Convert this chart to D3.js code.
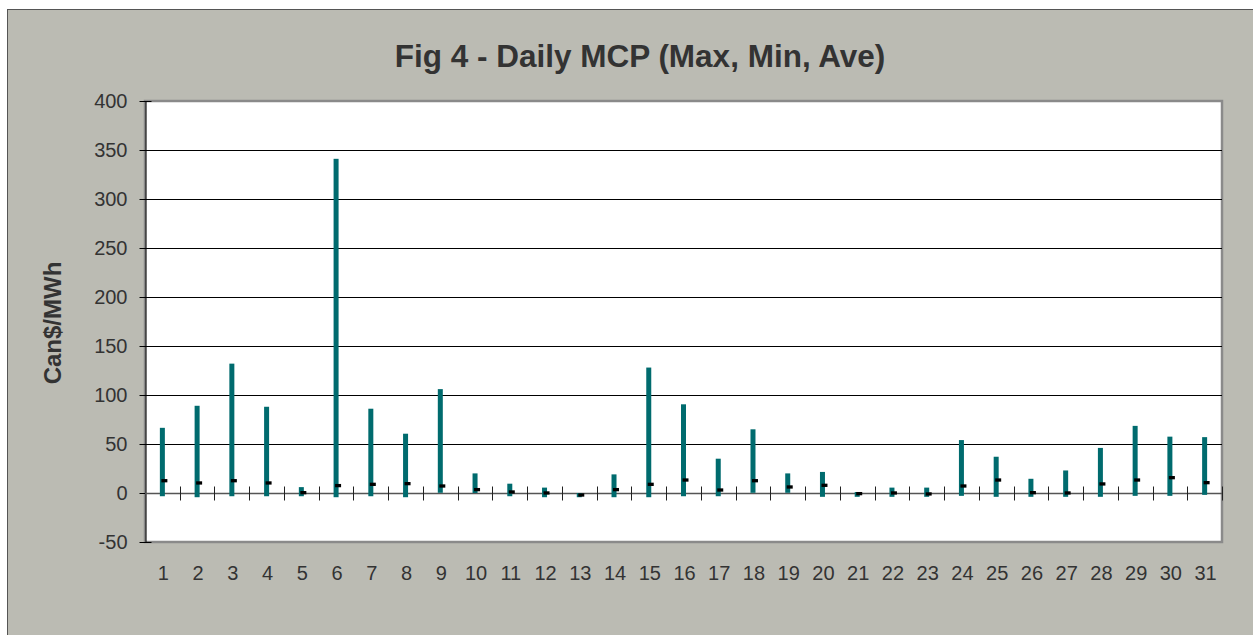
<!DOCTYPE html>
<html>
<head>
<meta charset="utf-8">
<script src="https://cdn.jsdelivr.net/npm/d3@7"></script>
<style>
  html, body { margin: 0; padding: 0; background: #fff; }
  svg { display: block; font-family: "Liberation Sans", Arial, sans-serif; }
</style>
</head>
<body>
<svg id="chart" width="1253" height="635"></svg>
<script>
// daily MCP values (Can$/MWh)
const days = d3.range(1, 32);
const maxPrice = [66.5, 89, 132, 88, 6, 341, 86, 60.5, 106, 20, 9.5, 5.5, 0, 19, 128,
  90.5, 35, 65, 20, 21.5, 1, 5.5, 5.5, 54, 37, 14.5, 23, 46, 68.5, 57.5, 57];
const minPrice = [-3.3, -4.3, -3.3, -3.3, -3.3, -4.3, -3.3, -4.3, 0.2, 0, -3.3, -4.3, -4.3, -4.3, -4.3,
  -3.3, -3.3, 0.2, 0.2, -3.9, -3.9, -3.9, -3.9, -2.9, -3.9, -3.9, -3.9, -3.9, -2.9, -2.9, -1.9];
const avePrice = [12.7, 10.4, 12.7, 10.4, 0.5, 7.7, 9, 9.7, 7.3, 3.6, 1.2, 0.2, -1.9, 3.6, 9,
  13.4, 3.2, 12.7, 6.3, 8, -0.5, 0.2, -0.8, 7.3, 13.4, 0.5, 0.2, 9.4, 13.4, 15.8, 10.7];
const yTicks = [-50, 0, 50, 100, 150, 200, 250, 300, 350, 400];

const data = days.map((d, i) => ({ day: d, max: maxPrice[i], min: minPrice[i], ave: avePrice[i] }));

const svg = d3.select('#chart');
const plot = { left: 145, top: 101, right: 1222, bottom: 542 };

// background frame
svg.append('rect').attr('x', 7.5).attr('y', 9.5).attr('width', 1260).attr('height', 640)
  .attr('fill', '#bbbbb3').attr('stroke', '#555').attr('stroke-width', 1);

svg.append('text')
  .attr('x', 640).attr('y', 67)
  .attr('text-anchor', 'middle')
  .attr('font-size', 31.5).attr('font-weight', 'bold').attr('fill', '#333')
  .text('Fig 4 - Daily MCP (Max, Min, Ave)');

const x = d3.scaleBand().domain(days).range([plot.left, plot.right]).padding(0);
const y = d3.scaleLinear().domain([-50, 400]).range([plot.bottom, plot.top]);

// plot area
svg.append('rect')
  .attr('x', plot.left).attr('y', plot.top)
  .attr('width', plot.right - plot.left).attr('height', plot.bottom - plot.top)
  .attr('fill', '#fff').attr('stroke', '#8a8a8a').attr('stroke-width', 2.5);

// gridlines
svg.append('g')
  .selectAll('line')
  .data(yTicks.filter(t => t !== 0 && t !== -50 && t !== 400))
  .join('line')
  .attr('x1', plot.left).attr('x2', plot.right)
  .attr('y1', d => Math.round(y(d)) + 0.5).attr('y2', d => Math.round(y(d)) + 0.5)
  .attr('stroke', '#000').attr('stroke-width', 1);

// y axis
const yAxis = d3.axisLeft(y).tickValues(yTicks).tickFormat(d => String(d))
  .tickSizeInner(6).tickSizeOuter(0).tickPadding(12);
const ya = svg.append('g').attr('transform', `translate(${plot.left + 0.5},0)`).call(yAxis);
ya.select('.domain').attr('stroke', '#000');
ya.selectAll('.tick line').attr('stroke', '#000').attr('x2', -6).attr('x1', 6);
ya.selectAll('.tick text').attr('font-size', 20).attr('fill', '#333')
  .attr('font-family', '"Liberation Sans", Arial, sans-serif').attr('x', -18);

// zero line with category separators
const y0 = Math.round(y(0)) + 0.5;
svg.append('line')
  .attr('x1', plot.left).attr('x2', plot.right).attr('y1', y0).attr('y2', y0)
  .attr('stroke', '#555').attr('stroke-width', 1.5);
const seps = days.map(d => x(d)).concat([plot.right]).slice(1);
svg.append('g').selectAll('line').data(seps).join('line')
  .attr('x1', d => Math.round(d) + 0.5).attr('x2', d => Math.round(d) + 0.5)
  .attr('y1', y0 - 7).attr('y2', y0 + 7)
  .attr('stroke', '#222').attr('stroke-width', 1);

// x labels
svg.append('g').selectAll('text').data(days).join('text')
  .attr('x', d => x(d) + x.bandwidth() / 2 + 1)
  .attr('y', 580)
  .attr('text-anchor', 'middle')
  .attr('font-size', 20).attr('fill', '#333')
  .text(d => d);

// high-low bars
const bw = 5;
svg.append('g').selectAll('rect').data(data).join('rect')
  .attr('x', d => x(d.day) + x.bandwidth() / 2 - bw / 2)
  .attr('y', d => y(d.max))
  .attr('width', bw)
  .attr('height', d => Math.max(1, y(d.min) - y(d.max)))
  .attr('fill', '#006b6e');

// average markers
svg.append('g').selectAll('rect').data(data).join('rect')
  .attr('x', d => x(d.day) + x.bandwidth() / 2 - 1)
  .attr('y', d => y(d.ave) - 1.5)
  .attr('width', 6).attr('height', 3.3)
  .attr('fill', '#000');

// y axis title
svg.append('text')
  .attr('transform', 'translate(61,323) rotate(-90)')
  .attr('text-anchor', 'middle')
  .attr('font-size', 24).attr('font-weight', 'bold').attr('fill', '#333')
  .text('Can$/MWh');
</script>
</body>
</html>
